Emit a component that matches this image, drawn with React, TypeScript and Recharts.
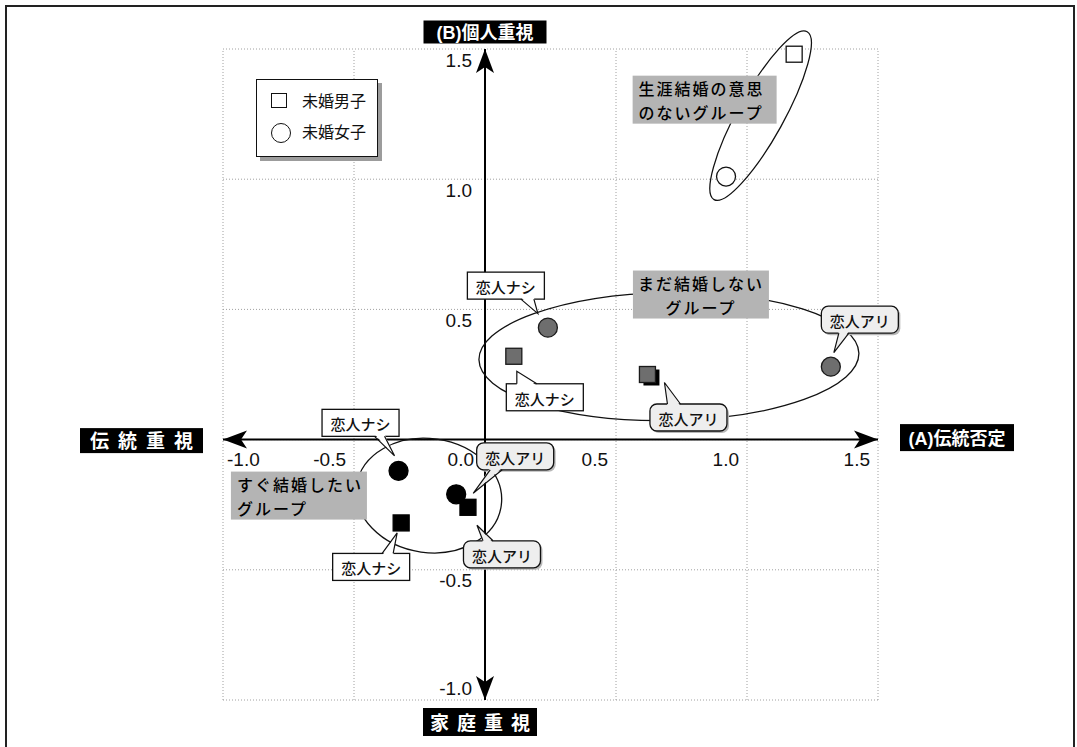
import React from "react";
import {
  ScatterChart,
  Scatter,
  XAxis,
  YAxis,
  ReferenceLine,
  ReferenceDot,
  Legend
} from "recharts";

// axis ticks
const gridTicks = [-1.0, -0.5, 0.0, 0.5, 1.0, 1.5];
const xTickLabels = ["-1.0", "-0.5", "0.0", "0.5", "1.0", "1.5"];
const yTickValues = [-1.0, -0.5, 0.5, 1.0, 1.5];
const yTickLabels = ["-1.0", "-0.5", "0.5", "1.0", "1.5"];

// categories
const seriesNames = ["未婚男子", "未婚女子"];
const groupNames = [
  ["すぐ結婚したい", "グループ"],
  ["まだ結婚しない", "グループ"],
  ["生涯結婚の意思", "のないグループ"]
];
const partnerNames = ["恋人ナシ", "恋人アリ"];

// 未婚男子 (squares)
const maleX = [-0.32, -0.065, 0.11, 0.62, 1.18];
const maleY = [-0.32, -0.26, 0.32, 0.25, 1.48];
const maleGroup = [0, 0, 1, 1, 2];
const malePartner = [0, 1, 0, 1, -1];

// 未婚女子 (circles)
const femaleX = [-0.33, -0.11, 0.24, 1.32, 0.92];
const femaleY = [-0.12, -0.21, 0.43, 0.28, 1.01];
const femaleGroup = [0, 0, 1, 1, 2];
const femalePartner = [0, 1, 0, 1, -1];

// group ellipse centres (data coords)
const ellipseX = [-0.214, 0.702, 1.052];
const ellipseY = [-0.215, 0.319, 1.244];

const maleData = maleX.map((x, i) => ({
  x,
  y: maleY[i],
  group: maleGroup[i],
  partner: malePartner[i]
}));
const femaleData = femaleX.map((x, i) => ({
  x,
  y: femaleY[i],
  group: femaleGroup[i],
  partner: femalePartner[i]
}));

// ---- styles / layout of annotations (pixels) ----
const LATIN = "'Liberation Sans', Arial, sans-serif";
const JP = "'Noto Sans CJK JP', 'Noto Sans', sans-serif";

const markerFill = ["#000000", "#6e6e6e", "#ffffff"];
const markerStroke = ["#000000", "#1a1a1a", "#111111"];

const ellipseShape = [
  { rx: 73, ry: 57, rot: 8 },
  { rx: 190, ry: 64, rot: -1 },
  { rx: 96, ry: 23, rot: -61 }
];

const groupLabelLayout = [
  { dx: -130, dy: 0, w: 136, h: 48, align: "start" },
  { dx: 32, dy: -62, w: 136, h: 48, align: "middle" },
  { dx: -56, dy: -16, w: 144, h: 48, align: "start" }
];

const maleCallouts = [
  { bx: -30, by: 44, tx: -4, ty: 10, side: "top", b1: 11, b2: 22 },
  { bx: 34, by: 47, tx: 9, ty: 18, side: "top", b1: -19, b2: -9 },
  { bx: 31, by: 41, tx: 3, ty: 15, side: "top", b1: -28, b2: -8 },
  { bx: 41, by: 43, tx: 17, ty: 8, side: "top", b1: -21, b2: -8 },
  null
];
const femaleCallouts = [
  { bx: -38, by: -48, tx: -4, ty: -15, side: "bottom", b1: 14, b2: 24 },
  { bx: 59, by: -38, tx: 17, ty: -1, side: "bottom", b1: -25, b2: -13 },
  { bx: -42, by: -42, tx: -10, ty: -14, side: "bottom", b1: 15, b2: 28 },
  { bx: 29, by: -47, tx: 3, ty: -14, side: "bottom", b1: -21, b2: -11 },
  null
];

function arrowHead(tx: number, ty: number, dx: number, dy: number) {
  const L = 24;
  const hw = 9;
  const bx = tx - dx * L;
  const by = ty - dy * L;
  const nx = tx - dx * (L - 6);
  const ny = ty - dy * (L - 6);
  const px = -dy;
  const py = dx;
  return `${tx},${ty} ${bx + px * hw},${by + py * hw} ${nx},${ny} ${bx - px * hw},${by - py * hw}`;
}

const ArrowAxis = (props: any) => {
  const { x1, y1, x2, y2 } = props;
  const len = Math.hypot(x2 - x1, y2 - y1) || 1;
  const dx = (x2 - x1) / len;
  const dy = (y2 - y1) / len;
  return (
    <g>
      <line x1={x1} y1={y1} x2={x2} y2={y2} stroke="#000" strokeWidth={2} />
      <polygon points={arrowHead(x2, y2, dx, dy)} fill="#000" />
      <polygon points={arrowHead(x1, y1, -dx, -dy)} fill="#000" />
    </g>
  );
};

const SquareMark = (props: any) => {
  const { cx, cy, payload } = props;
  const g = payload.group;
  const s = 16;
  const shadow = g === 1 && payload.partner === 1;
  return (
    <g>
      {shadow && <rect x={cx - s / 2 + 4} y={cy - s / 2 + 3} width={s} height={s} fill="#000" />}
      <rect
        x={cx - s / 2}
        y={cy - s / 2}
        width={s}
        height={s}
        fill={markerFill[g]}
        stroke={markerStroke[g]}
        strokeWidth={1.3}
      />
    </g>
  );
};

const CircleMark = (props: any) => {
  const { cx, cy, payload } = props;
  const g = payload.group;
  return (
    <circle cx={cx} cy={cy} r={9.5} fill={markerFill[g]} stroke={markerStroke[g]} strokeWidth={1.3} />
  );
};

const Callout = ({ cx, cy, c, text }: any) => {
  const rounded = text === "恋人アリ";
  const w = 77;
  const h = 27;
  const bx = cx + c.bx;
  const by = cy + c.by;
  const left = bx - w / 2;
  const top = by - h / 2;
  const edgeY = c.side === "top" ? top : top + h;
  const inner = c.side === "top" ? edgeY + 2 : edgeY - 2;
  const tip = `${cx + c.tx},${cy + c.ty}`;
  const p1 = bx + c.b1;
  const p2 = bx + c.b2;
  const fill = rounded ? "#eeeeee" : "#ffffff";
  return (
    <g>
      {rounded && (
        <rect x={left + 2} y={top + 2} width={w} height={h} rx={7} fill="#b8b8b8" />
      )}
      <rect
        x={left}
        y={top}
        width={w}
        height={h}
        rx={rounded ? 7 : 0}
        fill={fill}
        stroke="#111"
        strokeWidth={1.3}
      />
      <polygon points={`${p1},${inner} ${tip} ${p2},${inner}`} fill={fill} />
      <polyline
        points={`${p1},${edgeY} ${tip} ${p2},${edgeY}`}
        fill="none"
        stroke="#111"
        strokeWidth={1.2}
      />
      <text
        x={bx}
        y={by + 1}
        textAnchor="middle"
        dominantBaseline="central"
        fontSize={15}
        fontFamily={JP}
        fontWeight={500}
        fill="#111"
      >
        {text}
      </text>
    </g>
  );
};

const GroupLabel = ({ cx, cy, i }: any) => {
  const l = groupLabelLayout[i];
  const x0 = cx + l.dx - l.w / 2;
  const y0 = cy + l.dy - l.h / 2;
  const tx = l.align === "middle" ? x0 + l.w / 2 : x0 + 6;
  return (
    <g>
      <rect x={x0} y={y0} width={l.w} height={l.h} fill="#b4b4b4" />
      {groupNames[i].map((line, k) => (
        <text
          key={k}
          x={tx}
          y={y0 + 12.5 + k * 23.5}
          textAnchor={l.align}
          dominantBaseline="central"
          fontSize={16}
          letterSpacing={2}
          fontFamily={JP}
          fontWeight={500}
          fill="#000"
        >
          {line}
        </text>
      ))}
    </g>
  );
};

const AxisTitle = ({ cx, cy, dx, dy, w, h, text, spacing }: any) => {
  const bx = cx + dx;
  const by = cy + dy;
  return (
    <g>
      <rect x={bx - w / 2} y={by - h / 2} width={w} height={h} fill="#000" />
      <text
        x={bx + (spacing ? spacing / 2 : 0)}
        y={by + 1}
        textAnchor="middle"
        dominantBaseline="central"
        fontSize={spacing ? 19 : 18}
        fontWeight="bold"
        letterSpacing={spacing || 0}
        fontFamily={`'Liberation Sans', ${JP}`}
        fill="#fff"
      >
        {text}
      </text>
    </g>
  );
};

const renderLegend = () => (
  <div
    style={{
      position: "relative",
      width: 122,
      height: 78,
      boxSizing: "border-box",
      border: "1.5px solid #111",
      background: "#fff",
      boxShadow: "4px 4px 0 #9c9c9c",
      fontFamily: JP
    }}
  >
    {seriesNames.map((name, i) => (
      <div key={name}>
        {i === 0 ? (
          <div
            style={{
              position: "absolute",
              left: 14,
              top: 13,
              width: 16,
              height: 15,
              boxSizing: "border-box",
              border: "1.5px solid #111"
            }}
          />
        ) : (
          <div
            style={{
              position: "absolute",
              left: 14,
              top: 43,
              width: 20,
              height: 20,
              boxSizing: "border-box",
              border: "1.5px solid #111",
              borderRadius: "50%"
            }}
          />
        )}
        <span
          style={{
            position: "absolute",
            left: 45,
            top: i === 0 ? 9 : 40,
            fontSize: 16,
            lineHeight: "22px",
            color: "#111"
          }}
        >
          {name}
        </span>
      </div>
    ))}
  </div>
);

export default function App() {
  return (
    <div
      style={{
        position: "absolute",
        left: 0,
        top: 0,
        width: 1077,
        height: 747,
        overflow: "hidden",
        background: "#fff"
      }}
    >
      <div
        style={{
          position: "absolute",
          left: 5,
          top: 5,
          width: 1070,
          height: 780,
          border: "2px solid #222",
          boxSizing: "border-box"
        }}
      />
      <div style={{ position: "absolute", left: 0, top: 0 }}>
        <ScatterChart
          width={1077}
          height={747}
          margin={{ top: 49, right: 199, bottom: 47, left: 223 }}
        >
          <XAxis type="number" dataKey="x" domain={[-1, 1.5]} hide />
          <YAxis type="number" dataKey="y" domain={[-1, 1.5]} hide />

          {gridTicks.map((v) => (
            <ReferenceLine
              key={`gx${v}`}
              x={v}
              stroke="#a0a0a0"
              strokeWidth={1}
              strokeDasharray="1 2"
            />
          ))}
          {gridTicks.map((v) => (
            <ReferenceLine
              key={`gy${v}`}
              y={v}
              stroke="#a0a0a0"
              strokeWidth={1}
              strokeDasharray="1 2"
            />
          ))}

          <ReferenceLine x={0} shape={ArrowAxis} />
          <ReferenceLine y={0} shape={ArrowAxis} />

          {ellipseX.map((ex, i) => (
            <ReferenceDot
              key={`el${i}`}
              x={ex}
              y={ellipseY[i]}
              shape={(p: any) => (
                <ellipse
                  cx={p.cx}
                  cy={p.cy}
                  rx={ellipseShape[i].rx}
                  ry={ellipseShape[i].ry}
                  transform={`rotate(${ellipseShape[i].rot} ${p.cx} ${p.cy})`}
                  fill="none"
                  stroke="#111"
                  strokeWidth={1.3}
                />
              )}
            />
          ))}

          <Scatter
            name={seriesNames[0]}
            data={maleData}
            shape={SquareMark}
            isAnimationActive={false}
          />
          <Scatter
            name={seriesNames[1]}
            data={femaleData}
            shape={CircleMark}
            isAnimationActive={false}
          />

          {xTickLabels.map((t, i) => {
            const v = gridTicks[i];
            return (
              <ReferenceDot
                key={`xt${i}`}
                x={v}
                y={0}
                shape={(p: any) => (
                  <text
                    x={p.cx + (v === -1 ? 4 : v === 0 ? -11 : -8)}
                    y={p.cy + 20}
                    textAnchor={v === -1 ? "start" : "end"}
                    dominantBaseline="central"
                    fontSize={19}
                    fontFamily={LATIN}
                    fill="#111"
                  >
                    {t}
                  </text>
                )}
              />
            );
          })}
          {yTickLabels.map((t, i) => {
            const v = yTickValues[i];
            return (
              <ReferenceDot
                key={`yt${i}`}
                x={0}
                y={v}
                shape={(p: any) => (
                  <text
                    x={p.cx - 13}
                    y={p.cy + (v === -1 ? -12 : 11)}
                    textAnchor="end"
                    dominantBaseline="central"
                    fontSize={19}
                    fontFamily={LATIN}
                    fill="#111"
                  >
                    {t}
                  </text>
                )}
              />
            );
          })}

          {ellipseX.map((ex, i) => (
            <ReferenceDot
              key={`gl${i}`}
              x={ex}
              y={ellipseY[i]}
              shape={(p: any) => <GroupLabel cx={p.cx} cy={p.cy} i={i} />}
            />
          ))}

          {maleData.map((d, i) =>
            maleCallouts[i] ? (
              <ReferenceDot
                key={`mc${i}`}
                x={d.x}
                y={d.y}
                shape={(p: any) => (
                  <Callout cx={p.cx} cy={p.cy} c={maleCallouts[i]} text={partnerNames[d.partner]} />
                )}
              />
            ) : null
          )}
          {femaleData.map((d, i) =>
            femaleCallouts[i] ? (
              <ReferenceDot
                key={`fc${i}`}
                x={d.x}
                y={d.y}
                shape={(p: any) => (
                  <Callout cx={p.cx} cy={p.cy} c={femaleCallouts[i]} text={partnerNames[d.partner]} />
                )}
              />
            ) : null
          )}

          <ReferenceDot
            x={0}
            y={1.5}
            shape={(p: any) => (
              <AxisTitle cx={p.cx} cy={p.cy} dx={0} dy={-17} w={123} h={23} text="(B)個人重視" />
            )}
          />
          <ReferenceDot
            x={0}
            y={-1}
            shape={(p: any) => (
              <AxisTitle cx={p.cx} cy={p.cy} dx={-5} dy={22} w={114} h={28} text="家庭重視" spacing={8} />
            )}
          />
          <ReferenceDot
            x={-1}
            y={0}
            shape={(p: any) => (
              <AxisTitle cx={p.cx} cy={p.cy} dx={-81.5} dy={1} w={123} h={25} text="伝統重視" spacing={9} />
            )}
          />
          <ReferenceDot
            x={1.5}
            y={0}
            shape={(p: any) => (
              <AxisTitle cx={p.cx} cy={p.cy} dx={79} dy={-2} w={114} h={27} text="(A)伝統否定" />
            )}
          />

          <Legend
            layout="horizontal"
            verticalAlign="middle"
            align="center"
            content={renderLegend}
            wrapperStyle={{ left: 256, top: 79, width: 122, height: 78 }}
          />
        </ScatterChart>
      </div>
    </div>
  );
}
